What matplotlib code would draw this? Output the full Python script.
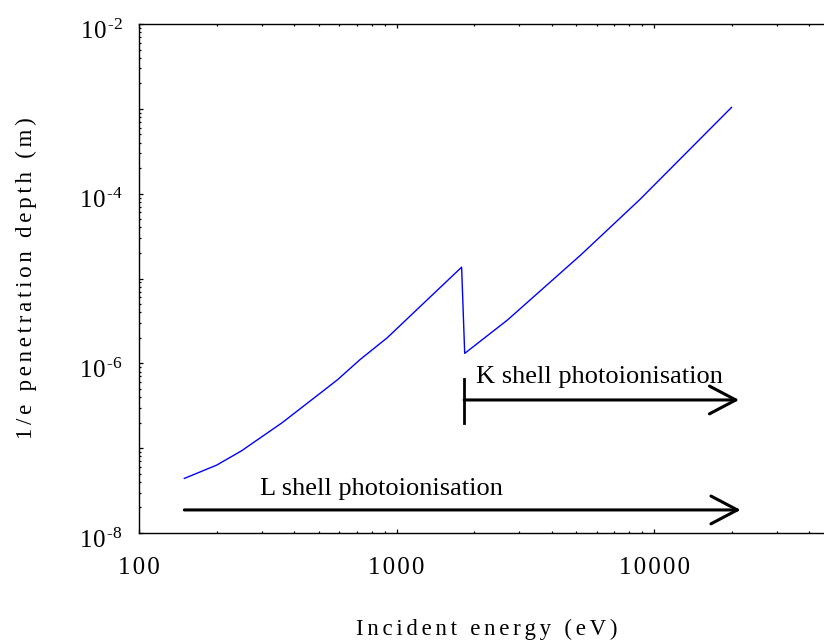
import math
import matplotlib
matplotlib.use("Agg")
import matplotlib.pyplot as plt
import matplotlib.transforms as mtransforms
from matplotlib.ticker import LogLocator, NullFormatter
from matplotlib.patches import FancyArrowPatch, ArrowStyle

# Photon energy (eV) and 1/e penetration depth (m)
energy_ev = [150, 200, 250, 360, 590, 720, 920, 1790, 1840, 2700, 5200, 8800, 20000]
depth_m = [4.4e-8, 6.3e-8, 9.3e-8, 2.0e-7, 6.4e-7, 1.1e-6, 2.0e-6, 1.36e-5,
           1.31e-6, 3.25e-6, 1.9e-5, 8.5e-5, 1.04e-3]

# Photoionisation ranges: (label, start energy, end energy, depth level)
l_shell = ("L shell photoionisation", 150, 21700, 1.87e-8)
k_shell = ("K shell photoionisation", 1830, 21400, 3.7e-7)
k_edge_bar = (1.98e-7, 6.5e-7)

x_ticks = [100, 1000, 10000]
x_tick_labels = ["100", "1000", "10000"]
y_decades = [-8, -7, -6, -5, -4, -3, -2]
y_label_exponents = [-8, -6, -4, -2]

HAIR = "\u200a"   # narrow letter spacing for tick labels
SIXTH = "\u2006"  # wider letter spacing for axis titles


def spaced(s, gap):
    return gap.join(s)


plt.rcParams["font.family"] = ["Liberation Serif", "DejaVu Serif"]
plt.rcParams["mathtext.fontset"] = "custom"
plt.rcParams["mathtext.rm"] = "Liberation Serif"
plt.rcParams["mathtext.it"] = "Liberation Serif:italic"
plt.rcParams["mathtext.default"] = "regular"

fig = plt.figure(figsize=(8.24, 6.42), dpi=100)
ax = fig.add_axes([139 / 824, 109 / 642, 695 / 824, 509 / 642])

ax.plot(energy_ev, depth_m, color="#0000ff", lw=1.0)
ax.set_xscale("log")
ax.set_yscale("log")
ax.set_xlim(100, 50000)
ax.set_ylim(1e-8, 1e-2)


def add_arrow(x0, x1, y):
    arr = FancyArrowPatch((x0, y), (x1, y),
                          arrowstyle=ArrowStyle("->", head_length=1.9, head_width=1.0),
                          mutation_scale=10, lw=2.2, color="black",
                          shrinkA=0, shrinkB=0)
    ax.add_patch(arr)


add_arrow(l_shell[1], l_shell[2], l_shell[3])
add_arrow(k_shell[1], k_shell[2], k_shell[3])
ax.plot([k_shell[1], k_shell[1]], k_edge_bar, color="black", lw=2.0)

ax.text(295, 2.8e-8, l_shell[0], fontsize=19, va="baseline", ha="left")
ax.text(2040, 5.9e-7, k_shell[0], fontsize=19, va="baseline", ha="left")

# Tick styling
ax.tick_params(which="both", direction="in", top=True, right=True, width=0.9,
               labelsize=18)
ax.tick_params(which="major", length=2.8)
ax.tick_params(which="minor", length=1.6)
ax.tick_params(axis="x", pad=17.5)
ax.tick_params(axis="y", pad=11.5)

ax.set_xticks(x_ticks, [spaced(t, HAIR) for t in x_tick_labels])
ax.xaxis.set_minor_locator(LogLocator(base=10, subs=range(2, 10), numticks=20))
ax.xaxis.set_minor_formatter(NullFormatter())

y_tick_vals = [10.0 ** e for e in y_decades]
y_tick_text = [r"$1\hspace{0.08}0^{\hspace{0.1}\text{-}%d}$" % (-e)
               if e in y_label_exponents else "" for e in y_decades]
ax.set_yticks(y_tick_vals, y_tick_text)
ax.yaxis.set_minor_locator(LogLocator(base=10, subs=range(2, 10), numticks=20))
ax.yaxis.set_minor_formatter(NullFormatter())

# Sit the exponent labels slightly below their tick
shift = mtransforms.ScaledTranslation(0, -3.5 / 72, fig.dpi_scale_trans)
for tick in ax.yaxis.get_major_ticks():
    tick.label1.set_transform(tick.label1.get_transform() + shift)

for s in ax.spines.values():
    s.set_linewidth(1.0)

ax.set_xlabel(spaced("Incident energy (eV)", SIXTH), fontsize=16.5, labelpad=28.6)
ax.set_ylabel(spaced("1/e penetration depth (m)", SIXTH), fontsize=16.5, labelpad=30)

fig.savefig("out.png", dpi=100)
